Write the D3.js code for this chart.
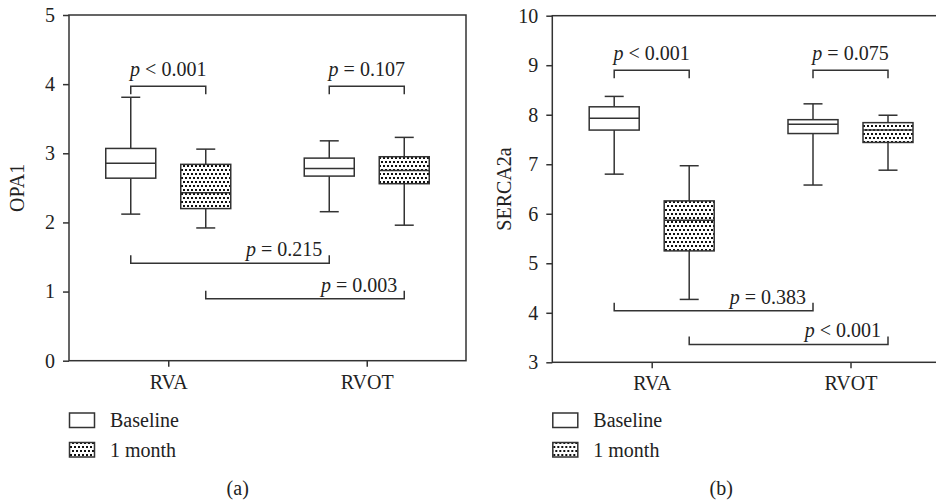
<!DOCTYPE html>
<html>
<head>
<meta charset="utf-8">
<script src="https://cdn.jsdelivr.net/npm/d3@7"></script>
<style>
  body { margin: 0; background: #fff; }
  svg text { font-family: "Liberation Serif", "Times New Roman", serif; fill: #222; }
</style>
</head>
<body>
<svg id="chart" width="936" height="502"></svg>
<script>
// categories and series
var groups = ["RVA", "RVOT"];
var series = ["Baseline", "1 month"];

// box stats: [min, q1, median, q3, max], order RVA-Baseline, RVA-1m, RVOT-Baseline, RVOT-1m
var opa1Boxes = [
  [2.12, 2.64, 2.855, 3.07, 3.81],
  [1.92, 2.20, 2.43, 2.84, 3.06],
  [2.155, 2.67, 2.78, 2.93, 3.18],
  [1.96, 2.56, 2.75, 2.95, 3.23]
];
var sercaBoxes = [
  [6.80, 7.69, 7.93, 8.16, 8.37],
  [4.27, 5.25, 5.87, 6.26, 6.97],
  [6.58, 7.62, 7.81, 7.90, 8.22],
  [6.88, 7.44, 7.69, 7.84, 7.99]
];

// p-value annotations
var opa1Within = [{ group: "RVA", p: "< 0.001", level: 3.97 }, { group: "RVOT", p: "= 0.107", level: 3.97 }];
var opa1Between = [{ series: "Baseline", p: "= 0.215", level: 1.41 }, { series: "1 month", p: "= 0.003", level: 0.895 }];
var sercaWithin = [{ group: "RVA", p: "< 0.001", level: 8.9 }, { group: "RVOT", p: "= 0.075", level: 8.9 }];
var sercaBetween = [{ series: "Baseline", p: "= 0.383", level: 4.04 }, { series: "1 month", p: "< 0.001", level: 3.36 }];

var opa1Ticks = [0, 1, 2, 3, 4, 5];
var sercaTicks = [3, 4, 5, 6, 7, 8, 9, 10];

var ink = "#333";
var svg = d3.select("#chart");

// dotted fill
var defs = svg.append("defs");
var pat = defs.append("pattern")
  .attr("id", "dots")
  .attr("patternUnits", "userSpaceOnUse")
  .attr("width", 4).attr("height", 8);
pat.append("rect").attr("width", 4).attr("height", 8).attr("fill", "#fff");
pat.append("rect").attr("x", 1).attr("y", 1).attr("width", 2).attr("height", 2).attr("fill", "#111");
pat.append("rect").attr("x", 3).attr("y", 5).attr("width", 2).attr("height", 2).attr("fill", "#111");
pat.append("rect").attr("x", -1).attr("y", 5).attr("width", 2).attr("height", 2).attr("fill", "#111");

drawPanel({
  left: 69, top: 15, width: 397, bottom: 360.7,
  domain: [0, 5], ticks: opa1Ticks, boxes: opa1Boxes,
  within: opa1Within, between: opa1Between,
  title: "OPA1", titleX: 24, caption: "(a)"
});

drawPanel({
  left: 552.3, top: 15.7, width: 397.6, bottom: 362.3,
  domain: [3, 10], ticks: sercaTicks, boxes: sercaBoxes,
  within: sercaWithin, between: sercaBetween,
  title: "SERCA2a", titleX: 511, caption: "(b)"
});

function drawPanel(c) {
  var g = svg.append("g");
  var right = c.left + c.width;

  var y = d3.scaleLinear().domain(c.domain).range([c.bottom, c.top]);
  var x = d3.scalePoint().domain(groups).range([c.left, right]).padding(0.5);
  var off = d3.scalePoint().domain(series).range([-37.5, 37.5]);
  var boxW = 50, capW = 19;

  // frame
  g.append("rect")
    .attr("x", c.left).attr("y", c.top)
    .attr("width", c.width).attr("height", c.bottom - c.top)
    .attr("fill", "none").attr("stroke", ink).attr("stroke-width", 1.5);

  // axes
  var ya = g.append("g")
    .attr("transform", translate(c.left, 0))
    .call(d3.axisLeft(y).tickValues(c.ticks).tickSize(6).tickPadding(8).tickFormat(d3.format("d")));
  var xa = g.append("g")
    .attr("transform", translate(0, c.bottom))
    .call(d3.axisBottom(x).tickSize(6).tickPadding(8));
  [ya, xa].forEach(function(a) {
    a.attr("font-family", null);
    a.select(".domain").remove();
    a.selectAll("line").attr("stroke", ink).attr("stroke-width", 1.5);
    a.selectAll("text").style("font-size", "20px").attr("fill", "#222");
  });

  // boxes
  var items = [];
  groups.forEach(function(gr, gi) {
    series.forEach(function(s, si) {
      items.push({ group: gr, series: s, v: c.boxes[gi * 2 + si] });
    });
  });

  var b = g.selectAll("g.box").data(items).enter().append("g").attr("class", "box");
  b.each(function(d) {
    var el = d3.select(this);
    var cx = x(d.group) + off(d.series);
    var line = function(x1, y1, x2, y2) {
      el.append("line").attr("x1", x1).attr("y1", y1).attr("x2", x2).attr("y2", y2)
        .attr("stroke", ink).attr("stroke-width", 1.5);
    };
    line(cx, y(d.v[0]), cx, y(d.v[1]));
    line(cx, y(d.v[3]), cx, y(d.v[4]));
    line(cx - capW / 2, y(d.v[0]), cx + capW / 2, y(d.v[0]));
    line(cx - capW / 2, y(d.v[4]), cx + capW / 2, y(d.v[4]));
    el.append("rect")
      .attr("x", cx - boxW / 2).attr("y", y(d.v[3]))
      .attr("width", boxW).attr("height", y(d.v[1]) - y(d.v[3]))
      .attr("fill", d.series === "Baseline" ? "#fff" : "url(#dots)")
      .attr("stroke", ink).attr("stroke-width", 1.5);
    line(cx - boxW / 2, y(d.v[2]), cx + boxW / 2, y(d.v[2]));
  });

  // within-group brackets (open downward)
  c.within.forEach(function(w) {
    var x1 = x(w.group) + off(series[0]), x2 = x(w.group) + off(series[1]);
    var yy = y(w.level);
    g.append("path")
      .attr("d", "M" + x1 + "," + (yy + 8) + "V" + yy + "H" + x2 + "V" + (yy + 8))
      .attr("fill", "none").attr("stroke", ink).attr("stroke-width", 1.5);
    pLabel(g, (x1 + x2) / 2, yy - 10, w.p, "middle");
  });

  // between-group brackets (open upward)
  c.between.forEach(function(w) {
    var x1 = x(groups[0]) + off(w.series), x2 = x(groups[1]) + off(w.series);
    var yy = y(w.level);
    g.append("path")
      .attr("d", "M" + x1 + "," + (yy - 8) + "V" + yy + "H" + x2 + "V" + (yy - 8))
      .attr("fill", "none").attr("stroke", ink).attr("stroke-width", 1.5);
    pLabel(g, x2 - 7, yy - 7, w.p, "end");
  });

  // y title
  g.append("text")
    .attr("transform", translate(c.titleX, (c.top + c.bottom) / 2) + " rotate(-90)")
    .attr("text-anchor", "middle")
    .style("font-size", "20px")
    .text(c.title);

  // legend
  var lg = g.append("g").attr("transform", translate(c.left, 413));
  series.forEach(function(s, i) {
    lg.append("rect")
      .attr("x", 0.5).attr("y", i * 29.5)
      .attr("width", 25).attr("height", 14.5)
      .attr("fill", i === 0 ? "#fff" : "url(#dots)")
      .attr("stroke", ink).attr("stroke-width", 1.5);
    lg.append("text")
      .attr("x", 41).attr("y", i * 29.5 + 14)
      .style("font-size", "20px")
      .text(s);
  });

  // caption
  g.append("text")
    .attr("x", x.range()[0] + c.width * 0.425).attr("y", 495)
    .attr("text-anchor", "middle")
    .style("font-size", "20px")
    .text(c.caption);
}

function pLabel(g, px, py, txt, anchor) {
  var t = g.append("text")
    .attr("x", px).attr("y", py)
    .attr("text-anchor", anchor)
    .style("font-size", "20px");
  t.append("tspan").style("font-style", "italic").text("p");
  t.append("tspan").text(" " + txt);
}

function translate(x, y) {
  return "translate(" + x + "," + y + ")";
}
</script>
</body>
</html>
